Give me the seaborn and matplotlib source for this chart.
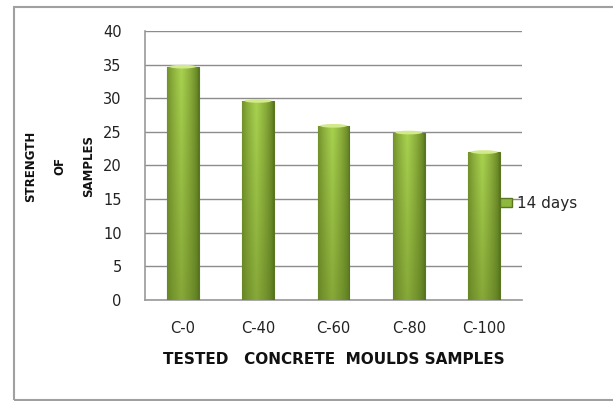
import matplotlib
matplotlib.use("Agg")
import matplotlib.pyplot as plt
import matplotlib.patches as mpatches
from matplotlib.colors import LinearSegmentedColormap
import numpy as np
import pandas as pd
import seaborn as sns

# data
samples = ['C-0', 'C-40', 'C-60', 'C-80', 'C-100']
strength_14d = [34.7, 29.6, 25.9, 24.9, 22.0]
series_name = '14 days'
y_ticks = [0, 5, 10, 15, 20, 25, 30, 35, 40]

df = pd.DataFrame({'sample': samples, 'strength': strength_14d})

sns.set_style('white')
plt.rcParams['font.family'] = ['DejaVu Sans']

fig = plt.figure(figsize=(6.13, 4.01), dpi=100)
ax = fig.add_axes([0.2365, 0.2519, 0.6150, 0.6708])

green = '#8FB83E'
ax = sns.barplot(data=df, x='sample', y='strength', color=green,
                 width=0.42, edgecolor='#5A7620', linewidth=0.8,
                 saturation=1, ax=ax, zorder=3)

# shading on the bars: light centre, dark sides, darker towards the base
cmap = LinearSegmentedColormap.from_list('bar', ['#54721C', '#7E9E33', '#A8D24F'])
xs = np.linspace(0, 1, 64)
side = np.clip(1 - np.abs(xs - 0.45) / 0.55, 0, 1) ** 0.6
for p in ax.patches:
    x0, w, h = p.get_x(), p.get_width(), p.get_height()
    ys = np.linspace(1, 0, 128)[:, None]          # top -> bottom
    img = side[None, :] * (0.6 + 0.4 * ys)
    im = ax.imshow(img, extent=[x0, x0 + w, 0, h], aspect='auto', cmap=cmap,
                   vmin=0, vmax=1, zorder=3.5, interpolation='bilinear')
    im.set_clip_path(p)
    # light crescent at the top of each bar
    ax.add_patch(mpatches.Ellipse((x0 + w / 2, h), w * 0.85, 0.55,
                                  facecolor='#D2E98C', edgecolor='none', zorder=4))

ax.set_xlim(-0.5, 4.5)
ax.set_ylim(0, 40)
ax.set_yticks(y_ticks)
ax.set_yticklabels([str(t) for t in y_ticks], fontsize=10.5, color='#222222')
ax.set_xticks(range(len(samples)))
ax.set_xticklabels(samples, fontsize=10.5, color='#222222')
ax.set_xticks(np.arange(-0.5, 5, 1), minor=True)
ax.tick_params(axis='x', which='major', length=0, pad=15)
ax.tick_params(axis='x', which='minor', length=4.3, color='#999999', width=1)
ax.tick_params(axis='y', length=5.8, color='#999999', width=1, pad=11)

ax.grid(axis='y', color='#8C8C8C', linewidth=1, zorder=0)
ax.set_axisbelow(True)
for s in ['top', 'right']:
    ax.spines[s].set_visible(False)
for s in ['left', 'bottom']:
    ax.spines[s].set_color('#999999')
    ax.spines[s].set_linewidth(1.2)

ax.set_xlabel('TESTED   CONCRETE  MOULDS SAMPLES', fontsize=11, fontweight='bold',
              labelpad=12, color='#111111')
ax.set_ylabel('')
fig.text(0.098, 0.585, 'STRENGTH\nOF\nSAMPLES', rotation=90, ha='center', va='center',
         fontsize=8.5, fontweight='bold', linespacing=2.6,
         family=['Liberation Sans Narrow', 'DejaVu Sans'], color='#111111')

handle = mpatches.Patch(facecolor=green, edgecolor='#5A7620', label=series_name)
fig.legend(handles=[handle], loc='center left', bbox_to_anchor=(0.806, 0.493),
           frameon=False, fontsize=11, handlelength=0.75, handleheight=0.55,
           handletextpad=0.35, borderaxespad=0)

# outer chart border (right side runs off the image)
fig.add_artist(mpatches.Rectangle((14 / 613, 1 / 401), 2.0, 393 / 401,
                                  transform=fig.transFigure, fill=False,
                                  edgecolor='#A0A0A0', linewidth=1.5))

fig.savefig('out.png', dpi=100)
